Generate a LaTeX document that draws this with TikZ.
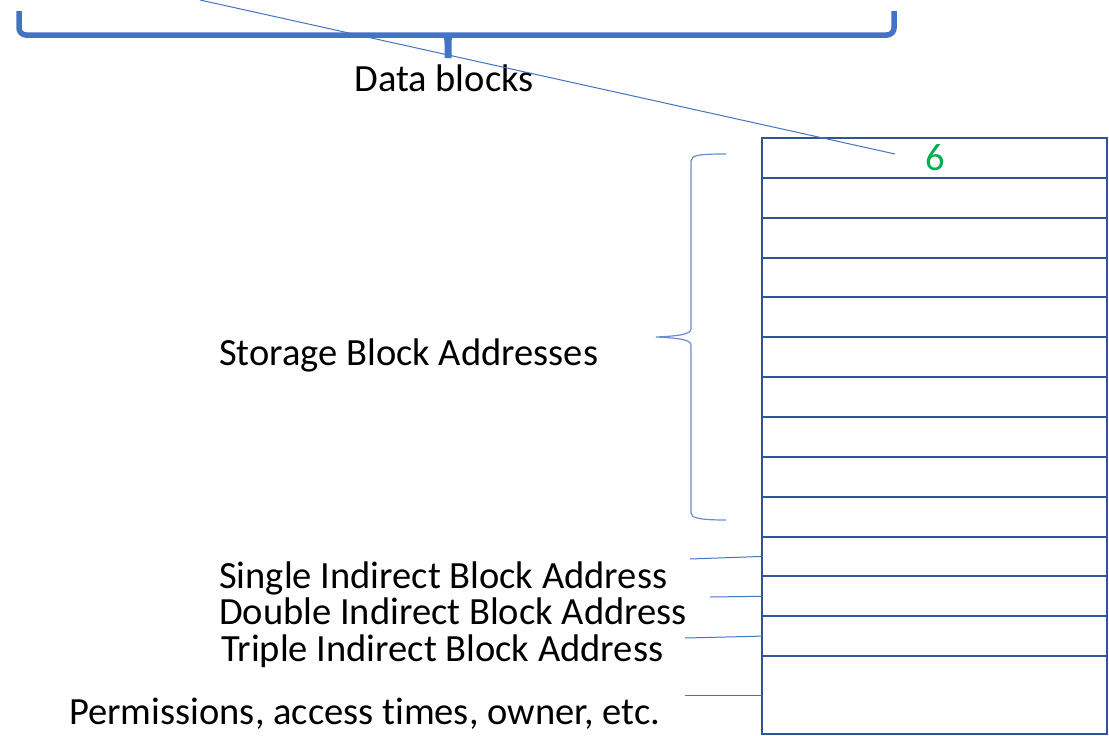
\documentclass[tikz,border=0pt]{standalone}
\usepackage{fontspec}
\setmainfont[Ligatures=NoCommon]{Carlito}
\definecolor{accent}{RGB}{68,114,196}
\definecolor{tableblue}{RGB}{47,85,151}
\definecolor{numgreen}{RGB}{0,176,80}
\tikzset{
  slot/.style={draw=tableblue, line width=2pt, minimum width=345pt, minimum height=39.85pt,
    inner sep=0pt, outer sep=0pt, anchor=north west},
  bigtext/.style={font=\fontsize{38.5}{42}\selectfont, inner sep=0pt},
  label/.style={bigtext, anchor=base west},
  leader/.style={draw=accent, line width=1pt},
  thinbrace/.style={draw=accent!80, line width=1.2pt},
}
\begin{document}
\begin{tikzpicture}[x=1pt, y=-1pt]
\useasboundingbox (0,0) rectangle (1109,736);

% inode table: 13 single rows and one double row
\foreach \i in {1,...,13}{
  \node[slot] (row\i) at (762,{138+(\i-1)*39.85}) {};
}
\node[slot, minimum height=78pt] (row14) at (762,656) {};

\node[bigtext, text=numgreen, anchor=base] (six) at (935,170) {6};

% data blocks brace
\draw[accent, line width=5.5pt, rounded corners=7pt] (19,11) -- (19,35) -- (894,35) -- (894,11);
\fill[accent] (437,33) .. controls (444,34) and (444.5,38) .. (444.5,44) -- (444.5,58) -- (451.5,58) -- (451.5,44)
  .. controls (451.5,38) and (452,34) .. (459,33) -- cycle;
\node[bigtext, anchor=base] (data) at (444,91) {Data blocks};

% pointer from the first address slot up to the data blocks
\coordinate (ptrtop) at (200,0);
\coordinate (ptrend) at (895,154);
\draw[leader] (ptrtop) -- (ptrend);

% brace over the direct addresses
\draw[thinbrace] (726,154) .. controls (700,154) and (691,155) .. (691,161) -- (691,329)
  .. controls (691,334) and (680,336) .. (656,337)
  .. controls (680,338) and (691,340) .. (691,345) -- (691,513)
  .. controls (691,518) and (700,520) .. (726,520);

\node[label] (storage) at (219,365) {Storage Block Addresses};
\node[label] (single) at (219,588) {Single Indirect Block Address};
\node[label] (double) at (219,624) {Double Indirect Block Address};
\node[label] (triple) at (221,661) {Triple Indirect Block Address};
\node[label] (perm) at (69,724) {Permissions, access times, owner, etc.};

\coordinate (lsingle) at (690,559);
\coordinate (ldouble) at (710,597);
\coordinate (ltriple) at (685,638);
\coordinate (lperm) at (685,695);
\draw[leader] (lsingle) -- (row11.west);
\draw[leader] (ldouble) -- (row12.west);
\draw[leader] (ltriple) -- (row13.west);
\draw[leader] (lperm) -- (row14.west);
\end{tikzpicture}
\end{document}
